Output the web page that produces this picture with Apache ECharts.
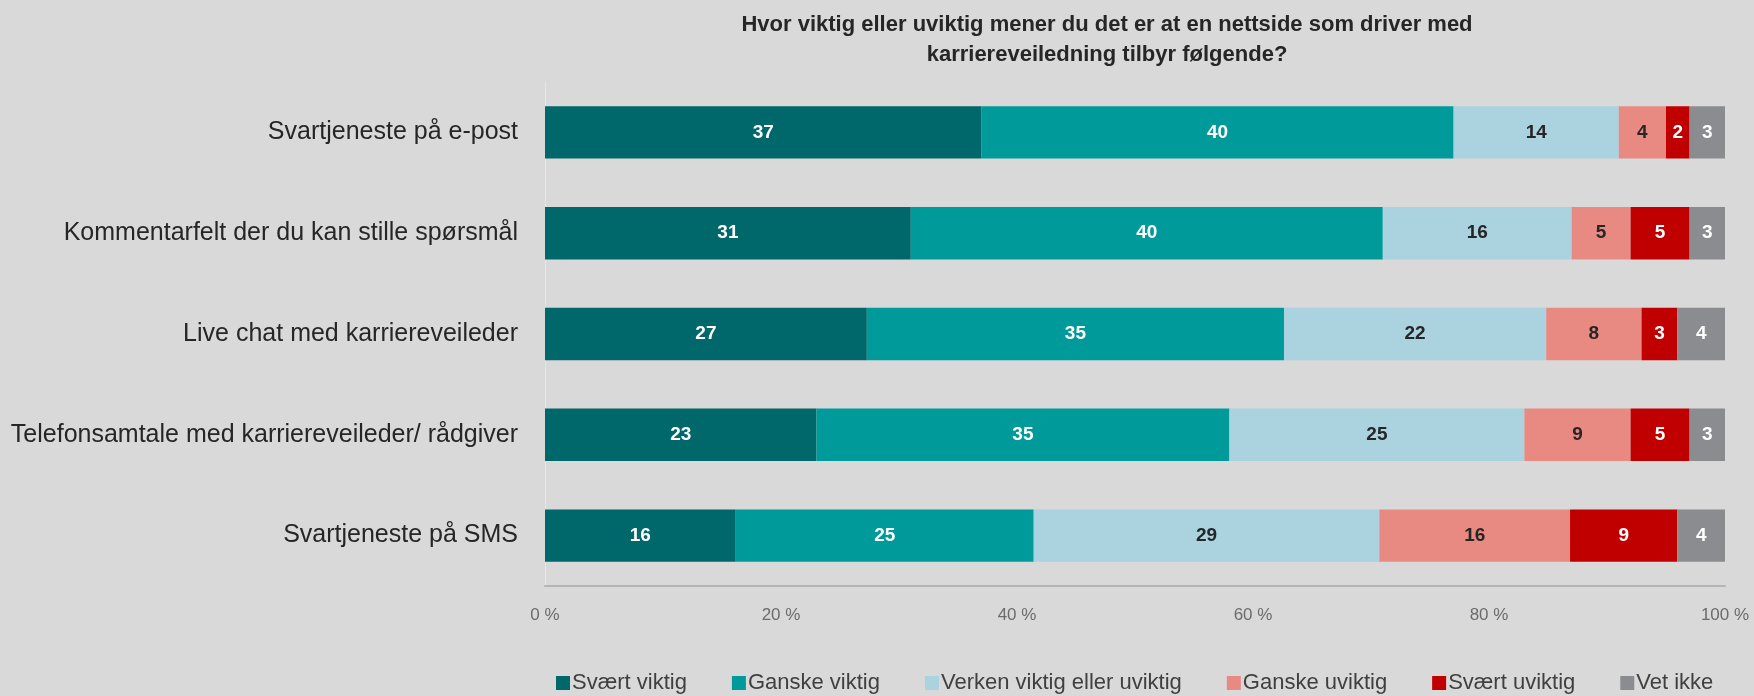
<!DOCTYPE html>
<html>
<head>
<meta charset="utf-8">
<script src="https://cdn.jsdelivr.net/npm/echarts@6/dist/echarts.min.js"></script>
<style>
    html, body {margin: 0; padding: 0; background: #D9D9D9;}
    #chart {width: 1754px; height: 696px;}
</style>
</head>
<body>
<div id="chart"></div>
<script>
    const categories = [
        'Svartjeneste på e-post',
        'Kommentarfelt der du kan stille spørsmål',
        'Live chat med karriereveileder',
        'Telefonsamtale med karriereveileder/ rådgiver',
        'Svartjeneste på SMS'
    ];
    const seriesNames = ['Svært viktig', 'Ganske viktig', 'Verken viktig eller uviktig', 'Ganske uviktig', 'Svært uviktig', 'Vet ikke'];
    const svaertViktig = [37, 31, 27, 23, 16];
    const ganskeViktig = [40, 40, 35, 35, 25];
    const verken = [14, 16, 22, 25, 29];
    const ganskeUviktig = [4, 5, 8, 9, 16];
    const svaertUviktig = [2, 5, 3, 5, 9];
    const vetIkke = [3, 3, 4, 3, 4];
    const xTicks = [0, 20, 40, 60, 80, 100];

    const colors = ['#00676A', '#009A9A', '#AAD2DF', '#E88A82', '#C00000', '#8A8C8F'];
    const labelColors = ['#FFFFFF', '#FFFFFF', '#262626', '#262626', '#FFFFFF', '#FFFFFF'];
    const allValues = [svaertViktig, ganskeViktig, verken, ganskeUviktig, svaertUviktig, vetIkke];

    // radene summerer ikke alltid til 100, så normaliser som i 100 % stablet
    const totals = categories.map((c, i) => allValues.reduce((s, arr) => s + arr[i], 0));

    const chart = echarts.init(document.getElementById('chart'));
    const font = 'Liberation Sans';

    const option = {
        backgroundColor: '#D9D9D9',
        textStyle: {fontFamily: font},
        title: {
            text: 'Hvor viktig eller uviktig mener du det er at en nettside som driver med\nkarriereveiledning tilbyr følgende?',
            left: 1102,
            top: 5,
            textAlign: 'center',
            textStyle: {
                fontFamily: font,
                fontSize: 22,
                fontWeight: 'bold',
                color: '#262626',
                lineHeight: 30
            }
        },
        legend: {
            top: 667,
            left: 551,
            itemWidth: 14,
            itemHeight: 14,
            itemGap: 45,
            icon: 'rect',
            textStyle: {fontFamily: font, fontSize: 22, color: '#404040', padding: [0, 0, 0, -3]},
            data: seriesNames
        },
        grid: {
            left: 545,
            right: 29,
            top: 82,
            bottom: 110,
            containLabel: false
        },
        xAxis: {
            type: 'value',
            min: 0,
            max: 100,
            interval: 20,
            axisLine: {show: true, lineStyle: {color: '#B5B5B5', width: 2}},
            axisTick: {show: false},
            splitLine: {show: false},
            axisLabel: {
                margin: 21,
                fontSize: 17,
                color: '#6B6B6B',
                formatter: v => xTicks.includes(v) ? v + ' %' : ''
            }
        },
        yAxis: {
            type: 'category',
            inverse: true,
            data: categories,
            axisLine: {show: true, lineStyle: {color: '#E6E6E6', width: 1}},
            axisTick: {show: false},
            axisLabel: {
                margin: 27,
                fontSize: 25,
                color: '#262626'
            }
        },
        series: seriesNames.map((name, s) => ({
            name: name,
            type: 'bar',
            stack: 'total',
            barWidth: '52%',
            itemStyle: {color: colors[s]},
            label: {
                show: true,
                position: 'inside',
                fontFamily: font,
                fontSize: 19,
                fontWeight: 'bold',
                color: labelColors[s],
                formatter: p => allValues[s][p.dataIndex]
            },
            data: allValues[s].map((v, i) => v / totals[i] * 100)
        }))
    };

    chart.setOption(option);
</script>
</body>
</html>
